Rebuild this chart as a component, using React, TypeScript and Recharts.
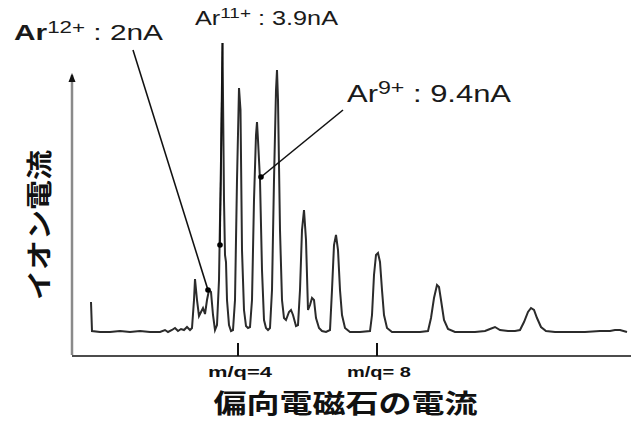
import React from 'react';
import { ComposedChart, Line, XAxis, YAxis, ReferenceLine, ReferenceDot } from 'recharts';

// magnet current (arbitrary units) and ion current (arbitrary units)
const magnetCurrent = [19, 20, 28, 38, 48, 58, 68, 78, 88, 93, 96, 100, 103, 106, 109, 112, 115, 118, 120, 122, 123, 125, 127, 129, 131, 133, 135, 137, 139, 141, 143, 145, 147, 149, 150.5, 152, 153, 154, 155, 157, 159, 161, 163, 165, 167, 168.5, 170, 172, 174, 176, 178, 180, 182, 184, 185, 186, 188, 190, 192, 194, 196, 198, 200, 202, 204, 205, 206, 208, 210, 212, 214, 217, 219, 221, 224, 226, 228, 230, 232, 234, 236, 238, 240, 242, 244, 247, 250, 254, 258, 260, 262, 264, 266, 268, 270, 273, 278, 288, 298, 300, 302, 304, 306, 308, 310, 312, 315, 320, 328, 338, 348, 356, 359, 362, 365, 367, 369, 372, 376, 383, 393, 403, 413, 418, 423, 428, 436, 443, 448, 452, 456, 459, 462, 465, 469, 474, 483, 498, 513, 528, 538, 543, 548, 555];
const ionCurrent = [54, 25, 24, 24, 25, 24, 25, 24, 24, 26, 24, 26, 28, 25, 27, 26, 29, 26, 28, 56, 77, 56, 40, 44, 48, 42, 56, 66, 64, 41, 26, 31, 76, 196, 313, 156, 101, 94, 56, 31, 25, 26, 56, 176, 268, 246, 106, 46, 30, 28, 29, 56, 156, 221, 234, 216, 176, 86, 36, 28, 26, 28, 66, 176, 266, 286, 256, 126, 56, 38, 36, 44, 46, 41, 30, 31, 66, 126, 146, 116, 46, 51, 58, 56, 38, 28, 25, 24, 26, 66, 111, 121, 106, 66, 41, 28, 24, 24, 25, 41, 81, 101, 103, 94, 66, 41, 28, 24, 24, 24, 24, 25, 38, 58, 71, 69, 56, 36, 27, 24, 24, 24, 25, 27, 29, 26, 25, 25, 26, 34, 44, 48, 46, 38, 29, 25, 24, 24, 24, 25, 25, 26, 26, 24];

const tickPositions = [166, 305];
const tickLabels = ['m/q=4', 'm/q= 8'];
const xTitle = '偏向電磁石の電流';
const yTitle = 'イオン電流';
const yTitleAnchor = { x: -35, y: 131 };

const ionNames = ['Ar', 'Ar', 'Ar'];
const ionCharges = ['12+', '11+', '9+'];
const beamCurrents = [' : 2nA', ' : 3.9nA', ' : 9.4nA'];
const pointerEndX = [136, 148, 189];
const pointerEndY = [66, 111, 179];
const pointerStartX = [61, 150.5, 271];
const pointerStartY = [306, 313, 246];
const labelX = [-58, 123, 275];
const labelY = [316, 331, 254];

const labelFontSize = [22, 20, 24];
const labelWidth = [149, 143, 164];
const labelBold = [true, false, false];

const data = magnetCurrent.map((x, i) => ({ x, y: ionCurrent[i] }));

const FONT = '"Liberation Sans", Arial, sans-serif';
const CJK = '"Noto Sans CJK JP", sans-serif';

const XTick = (props: any) => {
  const { x, y, payload } = props;
  const idx = tickPositions.indexOf(payload.value);
  return (
    <g>
      <line x1={x} x2={x} y1={y - 13} y2={y} stroke="#111" strokeWidth={2} />
      <text
        x={x + 2}
        y={y + 21}
        textAnchor="middle"
        fontFamily={FONT}
        fontWeight="bold"
        fontSize={14}
        fill="#111"
        textLength={64}
        lengthAdjust="spacingAndGlyphs"
      >
        {tickLabels[idx]}
      </text>
    </g>
  );
};

const XTitle = (props: any) => {
  const vb = props.viewBox || { x: 72, y: 356, width: 559 };
  return (
    <text
      x={vb.x + vb.width / 2 - 6}
      y={vb.y + 57}
      textAnchor="middle"
      fontFamily={CJK}
      fontWeight="bold"
      fontSize={26}
      fill="#111"
      textLength={264}
      lengthAdjust="spacingAndGlyphs"
    >
      {xTitle}
    </text>
  );
};

const YTitle = (p: any) => {
  const cx = p.cx;
  const cy = p.cy;
  return (
    <text
      x={cx}
      y={cy}
      transform={`rotate(-90 ${cx} ${cy})`}
      textAnchor="middle"
      dominantBaseline="central"
      fontFamily={CJK}
      fontWeight="bold"
      fontSize={26}
      fill="#111"
      textLength={150}
      lengthAdjust="spacingAndGlyphs"
    >
      {yTitle}
    </text>
  );
};

const makeLabel = (i: number) => (p: any) => {
  const fs = labelFontSize[i];
  return (
    <text
      x={p.cx}
      y={p.cy}
      fontFamily={FONT}
      fontSize={fs}
      fill="#1a1a1a"
      textLength={labelWidth[i]}
      lengthAdjust="spacingAndGlyphs"
    >
      <tspan fontWeight={labelBold[i] ? 'bold' : 'normal'}>{ionNames[i]}</tspan>
      <tspan fontSize={fs * 0.75} dy={-fs * 0.34}>{ionCharges[i]}</tspan>
      <tspan dy={fs * 0.34}>{beamCurrents[i]}</tspan>
    </text>
  );
};

const Arrow = (p: any) => (
  <path d={`M${p.cx},${p.cy} L${p.cx - 3.5},${p.cy + 9} L${p.cx + 3.5},${p.cy + 9} Z`} fill="#111" />
);

export default function App() {
  return (
    <div style={{ position: 'absolute', left: 0, top: 0, background: '#fff' }}>
      <ComposedChart width={631} height={421} data={data} margin={{ top: 20, right: 0, bottom: 35, left: 72 }}>
        <XAxis
          type="number"
          dataKey="x"
          domain={[0, 559]}
          ticks={tickPositions}
          interval={0}
          tickSize={0}
          tickMargin={0}
          tickLine={false}
          axisLine={{ stroke: '#111', strokeWidth: 1.5 }}
          tick={<XTick />}
          height={30}
          allowDataOverflow
          label={{ content: XTitle }}
        />
        <YAxis
          type="number"
          domain={[0, 336]}
          width={0}
          axisLine={false}
          tickLine={false}
          tick={false}
          allowDataOverflow
        />
        <ReferenceLine
          segment={[{ x: 0, y: 1 }, { x: 0, y: 281 }]}
          stroke="#8a8a8a"
          strokeWidth={2.5}
          ifOverflow="visible"
        />
        <ReferenceDot x={0} y={283} r={4} ifOverflow="visible" shape={Arrow} />
        <ReferenceDot x={yTitleAnchor.x} y={yTitleAnchor.y} r={1} ifOverflow="visible" shape={YTitle} />
        <Line
          type="linear"
          dataKey="y"
          stroke="#2b2b2b"
          strokeWidth={2}
          dot={false}
          isAnimationActive={false}
        />
        {ionNames.map((_, i) => (
          <ReferenceLine
            key={`pl${i}`}
            segment={[
              { x: pointerStartX[i], y: pointerStartY[i] },
              { x: pointerEndX[i], y: pointerEndY[i] },
            ]}
            stroke="#111"
            strokeWidth={1.6}
            ifOverflow="visible"
          />
        ))}
        {ionNames.map((_, i) => (
          <ReferenceDot
            key={`pd${i}`}
            x={pointerEndX[i]}
            y={pointerEndY[i]}
            r={2.8}
            fill="#000"
            stroke="none"
            ifOverflow="visible"
          />
        ))}
        {ionNames.map((_, i) => (
          <ReferenceDot
            key={`lb${i}`}
            x={labelX[i]}
            y={labelY[i]}
            r={1}
            ifOverflow="visible"
            shape={makeLabel(i)}
          />
        ))}
      </ComposedChart>
    </div>
  );
}
